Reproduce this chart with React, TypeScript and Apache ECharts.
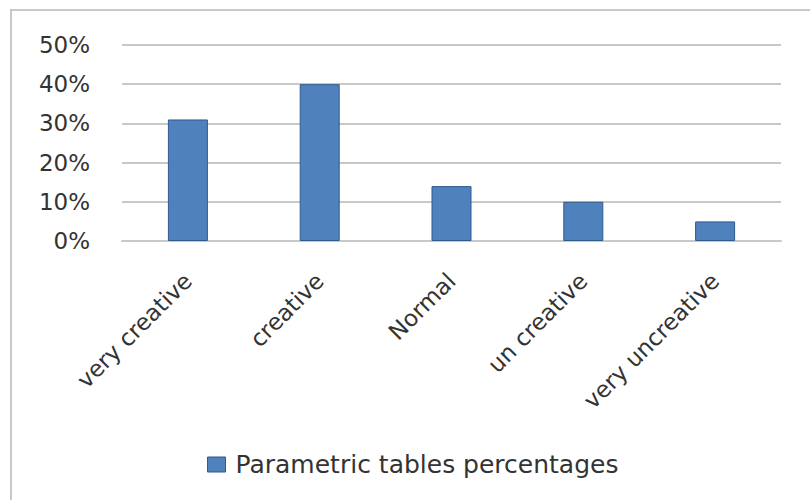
import React, { useEffect, useRef } from "react";
import * as echarts from "echarts";

const categories = ["very creative", "creative", "Normal", "un creative", "very uncreative"];
const values = [31, 40, 14, 10, 5];
const seriesName = "Parametric tables percentages";
const yTicks = [0, 10, 20, 30, 40, 50];

const FONT = "'DejaVu Sans', 'Open Sans', sans-serif";

export default function App() {
  const ref = useRef<HTMLDivElement>(null);
  useEffect(() => {
    if (!ref.current) return;
    const chart = echarts.init(ref.current, null, { renderer: "svg" });
    chart.setOption({
      animation: false,
      backgroundColor: "#ffffff",
      graphic: [
        { type: "rect", shape: { x: 11, y: 10, width: 820, height: 520 }, style: { fill: "none", stroke: "#c8c8c8", lineWidth: 2 }, silent: true },
      ],
      grid: { left: 122, right: 29, top: 45, bottom: 259, containLabel: false },
      legend: {
        top: 447,
        left: 202,
        itemWidth: 18,
        itemHeight: 15,
        icon: "rect",
        textStyle: { fontFamily: FONT, fontSize: 25, color: "#333333", padding: [0, 0, 0, 5] },
        data: [{ name: seriesName, itemStyle: { color: "#4f81bd", borderColor: "#2f5a8c", borderWidth: 1 } }],
      },
      xAxis: {
        type: "category",
        data: categories,
        axisLine: { show: true, lineStyle: { color: "#c8c8c8", width: 2 } },
        axisTick: { show: false },
        axisLabel: { rotate: 45, margin: 36, fontFamily: FONT, fontSize: 23, color: "#333333", interval: 0 },
      },
      yAxis: {
        type: "value",
        min: yTicks[0],
        max: yTicks[yTicks.length - 1],
        interval: 10,
        axisLine: { show: false },
        axisTick: { show: false },
        splitLine: { lineStyle: { color: "#c8c8c8", width: 2 } },
        axisLabel: { formatter: "{value}%", margin: 32, fontFamily: FONT, fontSize: 23, color: "#333333" },
      },
      series: [
        {
          name: seriesName,
          type: "bar",
          data: values,
          barWidth: 40,
          itemStyle: { color: "#4f81bd", borderColor: "#2f5a8c", borderWidth: 1 },
        },
      ],
    });
    return () => chart.dispose();
  }, []);
  return <div ref={ref} style={{ position: "fixed", left: 0, top: 0, width: 810, height: 500 }} />;
}
